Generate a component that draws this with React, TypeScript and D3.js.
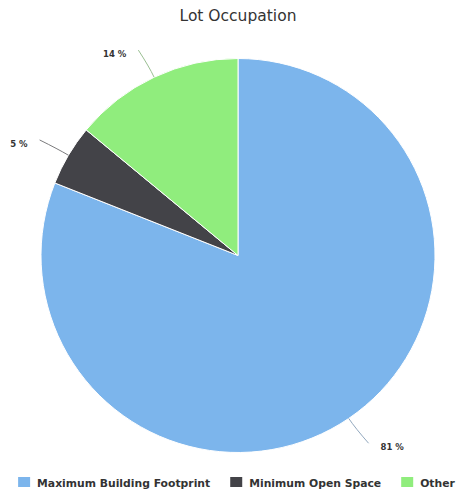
import React, { useEffect, useRef } from "react";
import * as d3 from "d3";

const title = "Lot Occupation";
const categories = ["Maximum Building Footprint", "Minimum Open Space", "Other"];
const values = [81, 5, 14];
const colors = ["#7cb5ec", "#434348", "#90ed7d"];

const W = 457;
const H = 493;

export default function App() {
  const ref = useRef<SVGSVGElement | null>(null);

  useEffect(() => {
    const svg = d3.select(ref.current);
    svg.selectAll("*").remove();

    const cx = 238;
    const cy = 255.5;
    const r = 197;

    svg
      .append("text")
      .attr("x", cx)
      .attr("y", 20.5)
      .attr("text-anchor", "middle")
      .attr("font-family", "DejaVu Sans, sans-serif")
      .attr("font-size", 15.5)
      .attr("fill", "#333333")
      .text(title);

    const data = categories.map((c, i) => ({ name: c, value: values[i], color: colors[i] }));
    const pie = d3.pie<any>().value((d) => d.value).sort(null);
    const arcs = pie(data);
    const arc = d3.arc<any>().innerRadius(0).outerRadius(r);

    const g = svg.append("g").attr("transform", `translate(${cx},${cy})`);
    g.selectAll("path.slice")
      .data(arcs)
      .join("path")
      .attr("class", "slice")
      .attr("d", arc as any)
      .attr("fill", (d: any) => d.data.color)
      .attr("stroke", "#ffffff")
      .attr("stroke-width", 1)
      .attr("stroke-linejoin", "round");

    const pt = (a: number, rad: number) => [Math.sin(a) * rad, -Math.cos(a) * rad];

    arcs.forEach((d: any) => {
      const a = (d.startAngle + d.endAngle) / 2;
      const side = Math.sin(a) < 0 ? -1 : 1;
      const P = pt(a, r + 30);
      const C = pt(a, r + 12);
      const E = pt(a, r);
      const Ps = [P[0] + side * 3, P[1]];
      g.append("path")
        .attr("d", `M${Ps[0]},${Ps[1]} Q${C[0]},${C[1]} ${E[0]},${E[1]}`)
        .attr("fill", "none")
        .attr("stroke", d3.interpolateRgb(d.data.color, "#a0a0a0")(0.6))
        .attr("stroke-width", 1);
      g.append("text")
        .attr("x", Ps[0] + side * 12)
        .attr("y", P[1] + 7)
        .attr("text-anchor", side < 0 ? "end" : "start")
        .attr("font-family", "DejaVu Sans, sans-serif")
        .attr("font-size", 8.5)
        .attr("font-weight", "bold")
        .attr("fill", "#333333")
        .text(`${d.data.value} %`);
    });

    // legend
    const lg = svg.append("g");
    const items = lg
      .selectAll("g.item")
      .data(data)
      .join("g")
      .attr("class", "item");
    items
      .append("rect")
      .attr("width", 12)
      .attr("height", 10)
      .attr("y", 477)
      .attr("fill", (d: any) => d.color);
    items
      .append("text")
      .attr("x", 19)
      .attr("y", 486.5)
      .attr("font-family", "DejaVu Sans, sans-serif")
      .attr("font-size", 10.8)
      .attr("font-weight", "bold")
      .attr("fill", "#333333")
      .text((d: any) => d.name);
    const widths: number[] = [];
    items.each(function () {
      const t = d3.select(this).select("text").node() as SVGTextElement;
      widths.push(19 + t.getComputedTextLength());
    });
    const gap = 20;
    const total = widths.reduce((s, w) => s + w, 0) + gap * (widths.length - 1);
    let x = 236.5 - total / 2;
    items.each(function (_d, i) {
      d3.select(this).attr("transform", `translate(${x},0)`);
      x += widths[i] + gap;
    });
  }, []);

  return (
    <svg
      ref={ref}
      width={W}
      height={H}
      style={{ position: "absolute", left: 0, top: 0, background: "#ffffff" }}
    />
  );
}
